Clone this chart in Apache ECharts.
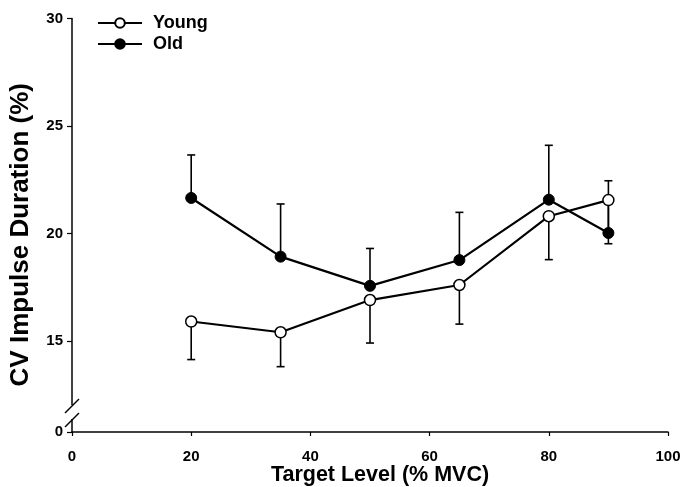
<!DOCTYPE html>
<html>
<head>
<meta charset="utf-8">
<script src="https://cdn.jsdelivr.net/npm/echarts@6/dist/echarts.min.js"></script>
<style>html,body{margin:0;padding:0;background:#fff}#c{width:682px;height:487px}</style>
</head>
<body>
<div id="c"></div>
<script>
const targetLevels = [20, 35, 50, 65, 80, 90];
const youngMean = [15.9, 15.4, 16.9, 17.6, 20.8, 21.55];
const youngErr  = [1.77, 1.6, 2.0, 1.82, 2.02, 2.03];   // drawn downward
const oldMean   = [21.65, 18.92, 17.56, 18.76, 21.57, 20.02];
const oldErr    = [2.0, 2.45, 1.74, 2.22, 2.53, 2.43];  // drawn upward
const xTicks = [0, 20, 40, 60, 80, 100];
const yBreakValue = 10.76;            // axis bottom (shown as 0 after the break)
const yTicks = [yBreakValue, 15, 20, 25, 30];

const FONT = '"Liberation Sans", Arial, sans-serif';

const youngPts = targetLevels.map((x, i) => [x, youngMean[i]]);
const oldPts = targetLevels.map((x, i) => [x, oldMean[i]]);
const youngBars = targetLevels.map((x, i) => [x, youngMean[i], youngMean[i] - youngErr[i]]);
const oldBars = targetLevels.map((x, i) => [x, oldMean[i], oldMean[i] + oldErr[i]]);

function errRender(params, api) {
  const p0 = api.coord([api.value(0), api.value(1)]);
  const p1 = api.coord([api.value(0), api.value(2)]);
  const st = { stroke: '#000', lineWidth: 1.6 };
  return {
    type: 'group',
    children: [
      { type: 'line', shape: { x1: p0[0], y1: p0[1], x2: p1[0], y2: p1[1] }, style: st },
      { type: 'line', shape: { x1: p1[0] - 4, y1: p1[1], x2: p1[0] + 4, y2: p1[1] }, style: st }
    ]
  };
}

const chart = echarts.init(document.getElementById('c'), null, { renderer: 'canvas' });
chart.setOption({
  animation: false,
  backgroundColor: '#fff',
  grid: { left: 72, right: 14, top: 18.5, bottom: 55, containLabel: false, outerBoundsMode: 'none' },
  legend: {
    orient: 'vertical', left: 97, top: 14, padding: 0,
    itemWidth: 44, itemHeight: 12, itemGap: 3,
    data: ['Young', 'Old'],
    textStyle: { fontFamily: FONT, fontWeight: 'bold', fontSize: 18, color: '#000', padding: [0, 0, 0, 6] }
  },
  xAxis: {
    type: 'value', min: 0, max: 100, interval: 20,
    name: 'Target Level (% MVC)', nameLocation: 'middle', nameGap: 32, nameMoveOverlap: false,
    nameTextStyle: { fontFamily: FONT, fontWeight: 'bold', fontSize: 21.5, color: '#000', padding: [0, 0, 0, 20] },
    axisLine: { show: true, lineStyle: { color: '#000', width: 1.5 } },
    axisTick: { show: true, length: 4, lineStyle: { color: '#000', width: 1.2 } },
    axisLabel: { fontFamily: FONT, fontWeight: 'bold', fontSize: 15, color: '#000', margin: 17,
                 formatter: v => xTicks.includes(v) ? String(v) : '' },
    splitLine: { show: false }
  },
  yAxis: {
    type: 'value', min: yBreakValue, max: 30,
    name: 'CV Impulse Duration (%)', nameLocation: 'middle', nameGap: 38, nameMoveOverlap: false,
    nameTextStyle: { fontFamily: FONT, fontWeight: 'bold', fontSize: 26, color: '#000', padding: [0, 19, 0, 0] },
    axisLine: { show: true, lineStyle: { color: '#000', width: 1.5 } },
    axisTick: { show: true, length: 5, customValues: yTicks, lineStyle: { color: '#000', width: 1.2 } },
    axisLabel: { fontFamily: FONT, fontWeight: 'bold', fontSize: 15, color: '#000', margin: 9,
                 customValues: yTicks,
                 formatter: v => (v < 12 ? '0' : String(Math.round(v))) },
    splitLine: { show: false }
  },
  series: [
    { type: 'custom', name: 'youngErr', renderItem: errRender, data: youngBars, z: 1, silent: true },
    { type: 'custom', name: 'oldErr', renderItem: errRender, data: oldBars, z: 1, silent: true },
    { type: 'line', name: 'Old', data: oldPts, z: 3, symbol: 'circle', symbolSize: 11,
      lineStyle: { color: '#000', width: 2.2 },
      itemStyle: { color: '#000', borderColor: '#000', borderWidth: 1 } },
    { type: 'line', name: 'Young', data: youngPts, z: 4, symbol: 'circle', symbolSize: 11,
      lineStyle: { color: '#000', width: 2.2 },
      itemStyle: { color: '#fff', borderColor: '#000', borderWidth: 1.5 } }
  ]
});

// axis break marks, positioned from the axis scale
const o = chart.convertToPixel({ gridIndex: 0 }, [0, yBreakValue]);
const ox = o[0], oy = o[1];
chart.setOption({
  graphic: [
    { type: 'rect', shape: { x: ox - 3, y: oy - 27, width: 6, height: 14 }, style: { fill: '#fff' }, z: 100 },
    { type: 'line', shape: { x1: ox - 7, y1: oy - 19, x2: ox + 7, y2: oy - 33 }, style: { stroke: '#000', lineWidth: 1.5 }, z: 101 },
    { type: 'line', shape: { x1: ox - 7, y1: oy - 5, x2: ox + 7, y2: oy - 19 }, style: { stroke: '#000', lineWidth: 1.5 }, z: 101 }
  ]
});
</script>
</body>
</html>
